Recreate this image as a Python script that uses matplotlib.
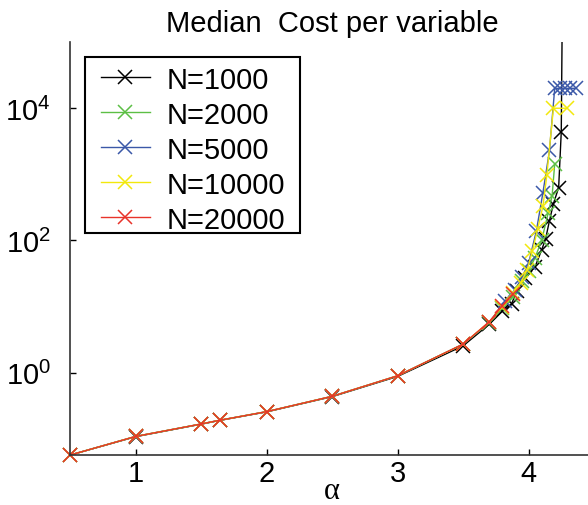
import numpy as np
import matplotlib
matplotlib.use('Agg')
import matplotlib.pyplot as plt
from matplotlib.patches import Rectangle

plt.rcParams['font.family'] = ['Liberation Sans', 'DejaVu Sans']
plt.rcParams['mathtext.default'] = 'regular'

# valores (alpha, custo mediano por variável)
alpha_1000 = [0.5, 1, 1.5, 1.64, 2, 2.5, 3, 3.5, 3.7, 3.8, 3.87, 3.91, 3.97, 4.05, 4.1, 4.13, 4.16, 4.19, 4.23, 4.25, 4.26]
cost_1000 = [0.057, 0.108, 0.167, 0.19, 0.256, 0.435, 0.88, 2.55, 5.4, 8.5, 11, 17, 27, 40, 72, 105, 200, 360, 630, 4400, 1e6]

alpha_2000 = [0.5, 1, 1.5, 1.64, 2, 2.5, 3, 3.5, 3.7, 3.8, 3.88, 3.95, 4.0, 4.05, 4.1, 4.15, 4.18, 4.2]
cost_2000 = [0.057, 0.109, 0.168, 0.191, 0.258, 0.44, 0.9, 2.7, 5.7, 9.5, 14, 24, 35, 55, 100, 260, 470, 1450]

alpha_5000 = [0.5, 1, 1.5, 1.64, 2, 2.5, 3, 3.5, 3.7, 3.82, 3.9, 3.95, 4.0, 4.06, 4.11, 4.16, 4.2, 4.24, 4.28, 4.32, 4.36]
cost_5000 = [0.057, 0.109, 0.168, 0.191, 0.258, 0.44, 0.9, 2.7, 5.8, 12, 18, 28, 45, 140, 530, 2300, 2e4, 2e4, 2e4, 2e4, 2e4]

alpha_10000 = [0.5, 1, 1.5, 1.64, 2, 2.5, 3, 3.5, 3.7, 3.8, 3.88, 3.94, 3.99, 4.03, 4.07, 4.11, 4.14, 4.19, 4.29]
cost_10000 = [0.057, 0.109, 0.168, 0.191, 0.258, 0.44, 0.9, 2.7, 5.9, 10, 16, 23, 36, 70, 150, 330, 980, 1e4, 1e4]

alpha_20000 = [0.5, 1, 1.5, 1.64, 2, 2.5, 3, 3.5, 3.7, 3.8, 3.88]
cost_20000 = [0.057, 0.109, 0.168, 0.191, 0.258, 0.44, 0.9, 2.71, 5.9, 10.3, 15.5]

labels = ['N=1000', 'N=2000', 'N=5000', 'N=10000', 'N=20000']
cores = ['black', '#5cbf45', '#3b58a8', '#f2e80c', '#e8332a']

fig = plt.figure(figsize=(5.88, 5.06), dpi=100)
ax = fig.add_axes([0.1196, 0.0988, 0.8906, 0.816])

series = [(alpha_1000, cost_1000), (alpha_2000, cost_2000), (alpha_5000, cost_5000),
          (alpha_10000, cost_10000), (alpha_20000, cost_20000)]
for i, ((a, c), lab, cor) in enumerate(zip(series, labels, cores)):
    # a curva N=1000 sai pelo topo, então só ela fica recortada
    ax.plot(a, c, color=cor, marker='x', markersize=10, markeredgewidth=1.1,
            linewidth=1.0, label=lab, clip_on=(i == 0))

ax.set_yscale('log')
ax.set_xlim(0.5, 4.5)
ax.set_ylim(0.057, 1e5)
ax.set_xticks([1, 2, 3, 4])
ax.set_yticks([1, 1e2, 1e4])
ax.yaxis.set_minor_locator(matplotlib.ticker.NullLocator())
ax.tick_params(direction='in', length=4, width=1, labelsize=21)
ax.tick_params(axis='x', pad=3)
ax.tick_params(axis='y', pad=14)
for s in ['top', 'right']:
    ax.spines[s].set_visible(False)
for s in ['left', 'bottom']:
    ax.spines[s].set_linewidth(1.2)
    ax.spines[s].set_color('#333333')

ax.set_title('Median  Cost per variable', fontsize=21, pad=8)
ax.set_xlabel('α', fontsize=22, family=['Liberation Serif', 'DejaVu Serif'])
ax.xaxis.set_label_coords(0.5, -0.052)

leg = ax.legend(loc='upper left', bbox_to_anchor=(0.058, 0.943), fontsize=21,
                frameon=False, borderaxespad=0, borderpad=0, handlelength=1.7,
                handletextpad=0.55, labelspacing=0.24)
# moldura da legenda
ax.add_patch(Rectangle((0.028, 0.5375), 0.41, 0.4265, transform=ax.transAxes,
                       fill=False, edgecolor='black', linewidth=1.5, zorder=5,
                       clip_on=False))

fig.savefig('out.png', dpi=100)
